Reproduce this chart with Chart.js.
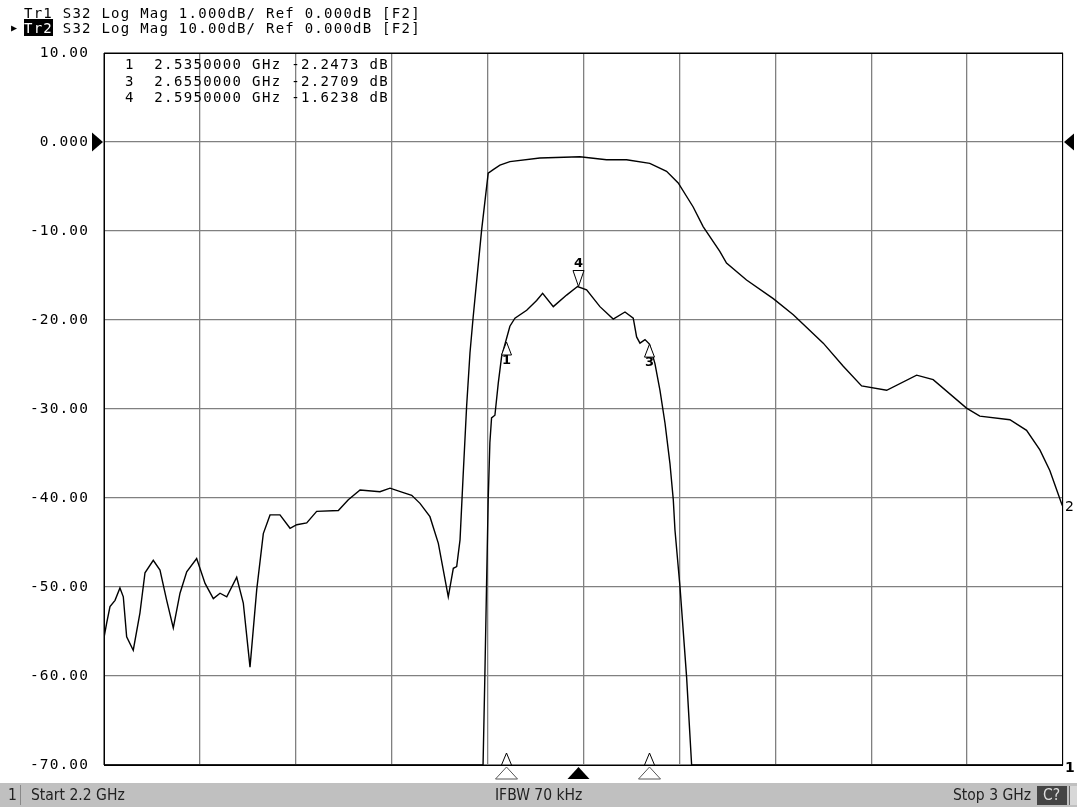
<!DOCTYPE html>
<html>
<head>
<meta charset="utf-8">
<script src="https://cdn.jsdelivr.net/npm/chart.js@4.4.1/dist/chart.umd.min.js"></script>
<style>
  html, body { margin: 0; padding: 0; background: #fff; }
  #wrap { position: absolute; left: 0; top: 0; width: 1077px; height: 807px; }
  .hdr { position: absolute; font-family: "DejaVu Sans Mono", monospace; font-size: 14px;
         letter-spacing: 1.25px; line-height: 16px; color: #000; white-space: pre; }
  .inv { background: #000; color: #fff; }
  .ul { text-decoration: underline; }
  .mk { position: absolute; font-family: "DejaVu Sans Mono", monospace; font-size: 14px;
        letter-spacing: 1.35px; line-height: 16px; white-space: pre; color: #000; }
  #bar { position: absolute; left: 0; top: 783px; width: 1077px; height: 24px; background: #c0c0c0;
         font-family: "Liberation Sans Narrow", "DejaVu Sans Condensed", sans-serif; font-size: 15.5px; color: #222; }
  #bar span { position: absolute; top: 3px; line-height: 18px; white-space: pre; }
</style>
</head>
<body>
<div id="wrap"><canvas id="c"></canvas></div>

<div class="hdr" style="left:24px; top:5px;"><span class="ul">Tr1</span> S32 Log Mag 1.000dB/ Ref 0.000dB [F2]</div>
<div class="hdr" style="left:11px; top:20px; font-size:10px; letter-spacing:0;">&#9654;</div>
<div class="hdr" style="left:24px; top:20px;"><span class="inv">Tr2</span> S32 Log Mag 10.00dB/ Ref 0.000dB [F2]</div>
<div id="mtable"></div>

<div id="bar">
  <span style="left:8px;">1</span>
  <div style="position:absolute; left:20px; top:2px; width:1px; height:20px; background:#888;"></div>
  <span style="left:31px;">Start 2.2 GHz</span>
  <span style="left:495px;">IFBW 70 kHz</span>
  <span style="left:953px;">Stop 3 GHz</span>
  <div style="position:absolute; left:1037px; top:3px; width:30px; height:19px; background:#444;"></div>
  <span style="left:1043px; color:#ddd;">C?</span>
  <div style="position:absolute; left:1069px; top:3px; width:8px; height:19px; background:#d8d8d8; border-left:1px solid #666;"></div>
</div>

<script>
// ---------- data ----------
const xTickValues = [2.2, 2.28, 2.36, 2.44, 2.52, 2.6, 2.68, 2.76, 2.84, 2.92, 3.0];
const yTickValues = [10, 0, -10, -20, -30, -40, -50, -60, -70];
const yTickLabels = ['10.00', '0.000', '-10.00', '-20.00', '-30.00', '-40.00', '-50.00', '-60.00', '-70.00'];

// Tr2: S32 Log Mag, 10 dB/div
const freqTr2 = [2.2000, 2.2023, 2.2050, 2.2092, 2.2133, 2.2161, 2.2189, 2.2244, 2.2300, 2.2342,
  2.2411, 2.2467, 2.2523, 2.2578, 2.2634, 2.2690, 2.2773, 2.2843, 2.2912, 2.2968,
  2.3024, 2.3107, 2.3162, 2.3218, 2.3274, 2.3329, 2.3385, 2.3468, 2.3552, 2.3608,
  2.3691, 2.3774, 2.3955, 2.4038, 2.4136, 2.4302, 2.4386, 2.4497, 2.4567, 2.4636,
  2.4719, 2.4789, 2.4872, 2.4914, 2.4942, 2.4970, 2.4997, 2.5025, 2.5053, 2.5080,
  2.5150, 2.5205, 2.5247, 2.5303, 2.5386, 2.5636, 2.5970, 2.6192, 2.6359, 2.6553,
  2.6693, 2.6790, 2.6915, 2.6998, 2.7137, 2.7193, 2.7360, 2.7583, 2.7750, 2.8000,
  2.8167, 2.8320, 2.8529, 2.8779, 2.8917, 2.9195, 2.9306, 2.9557, 2.9696, 2.9807,
  2.9890, 2.9987, 3.0000];
const magTr2 = [-55.7, -54.0, -52.2, -51.5, -50.1, -51.1, -55.6, -57.1, -52.9, -48.4,
  -47.0, -48.1, -51.5, -54.6, -50.7, -48.3, -46.8, -49.6, -51.3, -50.7,
  -51.1, -48.9, -51.8, -59.0, -50.3, -44.0, -41.9, -41.9, -43.4, -43.0,
  -42.8, -41.5, -41.4, -40.2, -39.1, -39.3, -38.9, -39.4, -39.7, -40.6,
  -42.1, -45.1, -51.1, -47.9, -47.7, -44.7, -37.2, -29.7, -23.7, -19.6,
  -9.9, -3.5, -3.1, -2.6, -2.2, -1.8, -1.65, -2.0, -2.0, -2.4,
  -3.3, -4.6, -7.3, -9.5, -12.3, -13.6, -15.5, -17.6, -19.4, -22.6,
  -25.2, -27.4, -27.9, -26.2, -26.7, -29.9, -30.8, -31.2, -32.4, -34.6,
  -36.9, -40.6, -41.0];

// Tr1: S32 Log Mag, 1 dB/div (values below -7 dB sit on the bottom edge)
const freqTr1 = [2.2000, 2.5162, 2.5177, 2.5191, 2.5205, 2.5219, 2.5233, 2.5261, 2.5289, 2.5317,
  2.5350, 2.5386, 2.5428, 2.5526, 2.5609, 2.5659, 2.5748, 2.5859, 2.5950, 2.6026,
  2.6137, 2.6248, 2.6346, 2.6415, 2.6443, 2.6471, 2.6513, 2.6550, 2.6596, 2.6638,
  2.6680, 2.6721, 2.6749, 2.6763, 2.6805, 2.6860, 2.6902, 3.0000];
const magTr1 = [-7.0, -7.0, -6.01, -5.0, -4.02, -3.38, -3.10, -3.07, -2.71, -2.41,
  -2.2473, -2.07, -1.98, -1.89, -1.78, -1.70, -1.85, -1.72, -1.6238, -1.66,
  -1.85, -1.99, -1.91, -1.98, -2.19, -2.26, -2.22, -2.2709, -2.49, -2.79,
  -3.16, -3.61, -4.02, -4.36, -5.0, -6.01, -7.0, -7.0];

// Markers on Tr1
const markerNum = [1, 3, 4];
const markerFreq = [2.535, 2.655, 2.595];
const markerVal = [-2.2473, -2.2709, -1.6238];
const activeMarker = 4;

// ---------- marker table ----------
(function () {
  const t = document.getElementById('mtable');
  markerNum.forEach((n, i) => {
    const d = document.createElement('div');
    d.className = 'mk';
    d.style.left = '125px';
    d.style.top = (56 + i * 16.5) + 'px';
    d.textContent = n + '  ' + markerFreq[i].toFixed(7) + ' GHz ' + markerVal[i].toFixed(4) + ' dB';
    t.appendChild(d);
  });
})();

const GRID = '#808080';

const vnaPlugin = {
  id: 'vna',
  beforeDraw(chart) { chart.ctx.letterSpacing = '1.1px'; },
  afterDraw(chart) {
    const { ctx, chartArea: a, scales } = chart;
    const x = scales.x, y = scales.y, y1 = scales.y1;
    ctx.save();
    ctx.letterSpacing = '0px';
    // frame
    ctx.strokeStyle = '#000';
    ctx.lineWidth = 1;
    ctx.strokeRect(a.left + 0.5, a.top + 0.5, a.right - a.left - 1, a.bottom - a.top);
    // reference arrows at 0 dB
    const y0 = y.getPixelForValue(0);
    ctx.fillStyle = '#000';
    ctx.beginPath(); ctx.moveTo(a.left - 12, y0 - 9.5); ctx.lineTo(a.left - 12, y0 + 9.5); ctx.lineTo(a.left - 1, y0); ctx.closePath(); ctx.fill();
    ctx.beginPath(); ctx.moveTo(a.right + 11, y0 - 8.5); ctx.lineTo(a.right + 11, y0 + 8.5); ctx.lineTo(a.right + 1, y0); ctx.closePath(); ctx.fill();

    // markers
    ctx.lineWidth = 1;
    ctx.font = 'bold 13px "DejaVu Sans"';
    ctx.textAlign = 'center';
    markerNum.forEach((n, i) => {
      const px = Math.round(x.getPixelForValue(markerFreq[i])) + 0.5;
      const py = y1.getPixelForValue(markerVal[i]);
      ctx.fillStyle = '#fff';
      ctx.strokeStyle = '#000';
      if (n === activeMarker) {
        ctx.beginPath(); ctx.moveTo(px, py); ctx.lineTo(px - 5.5, py - 16); ctx.lineTo(px + 5.5, py - 16); ctx.closePath();
        ctx.fill(); ctx.stroke();
        ctx.fillStyle = '#000';
        ctx.textBaseline = 'bottom';
        ctx.fillText(String(n), px, py - 16);
      } else {
        ctx.beginPath(); ctx.moveTo(px, py); ctx.lineTo(px - 5, py + 13); ctx.lineTo(px + 5, py + 13); ctx.closePath();
        ctx.fill(); ctx.stroke();
        ctx.fillStyle = '#000';
        ctx.textBaseline = 'top';
        ctx.fillText(String(n), px, py + 12);
        // small indicator at bottom edge of the grid
        ctx.fillStyle = '#fff';
        ctx.beginPath(); ctx.moveTo(px, a.bottom - 12); ctx.lineTo(px - 5, a.bottom); ctx.lineTo(px + 5, a.bottom); ctx.closePath();
        ctx.fill(); ctx.stroke();
      }
      // stimulus indicator below the grid
      ctx.beginPath(); ctx.moveTo(px, a.bottom + 2); ctx.lineTo(px - 11, a.bottom + 14); ctx.lineTo(px + 11, a.bottom + 14); ctx.closePath();
      if (n === activeMarker) { ctx.fillStyle = '#000'; ctx.fill(); }
      else { ctx.fillStyle = '#fff'; ctx.fill(); ctx.strokeStyle = '#555'; ctx.stroke(); }
    });

    // trace end labels
    ctx.fillStyle = '#000';
    ctx.font = '14px "DejaVu Sans"';
    ctx.textAlign = 'left';
    ctx.textBaseline = 'middle';
    ctx.fillText('2', a.right + 2, y.getPixelForValue(magTr2[magTr2.length - 1]));
    ctx.font = 'bold 14px "DejaVu Sans"';
    ctx.fillText('1', a.right + 2, y1.getPixelForValue(magTr1[magTr1.length - 1]) + 3);
    ctx.restore();
    ctx.letterSpacing = '0px';
  }
};

new Chart(document.getElementById('c'), {
  type: 'line',
  data: {
    datasets: [
      {
        label: 'Tr2 S32',
        data: freqTr2.map((f, i) => ({ x: f, y: magTr2[i] })),
        yAxisID: 'y',
        borderColor: '#000', borderWidth: 1.4, pointRadius: 0, tension: 0
      },
      {
        label: 'Tr1 S32',
        data: freqTr1.map((f, i) => ({ x: f, y: magTr1[i] })),
        yAxisID: 'y1',
        borderColor: '#000', borderWidth: 1.4, pointRadius: 0, tension: 0
      }
    ]
  },
  options: {
    responsive: true,
    maintainAspectRatio: false,
    animation: false,
    events: [],
    layout: { padding: { left: 0, right: 14, top: 53, bottom: 0 } },
    plugins: { legend: { display: false }, tooltip: { enabled: false } },
    scales: {
      x: {
        type: 'linear', min: 2.2, max: 3.0,
        afterBuildTicks(s) { s.ticks = xTickValues.map(v => ({ value: v })); },
        afterFit(s) { s.height = 42; },
        ticks: { display: false },
        grid: { color: GRID, lineWidth: 1.3, drawTicks: false },
        border: { display: false }
      },
      y: {
        type: 'linear', position: 'left', min: -70, max: 10,
        afterBuildTicks(s) { s.ticks = yTickValues.map(v => ({ value: v })); },
        afterFit(s) { s.width = 104; },
        ticks: {
          padding: 15,
          color: '#000',
          font: { family: '"DejaVu Sans Mono", monospace', size: 14.5 },
          callback(v) { const i = yTickValues.indexOf(v); return i >= 0 ? yTickLabels[i] : ''; }
        },
        grid: { color: GRID, lineWidth: 1.3, drawTicks: false },
        border: { display: false }
      },
      y1: {
        type: 'linear', display: false, min: -7, max: 1
      }
    }
  },
  plugins: [vnaPlugin]
});
</script>
</body>
</html>
